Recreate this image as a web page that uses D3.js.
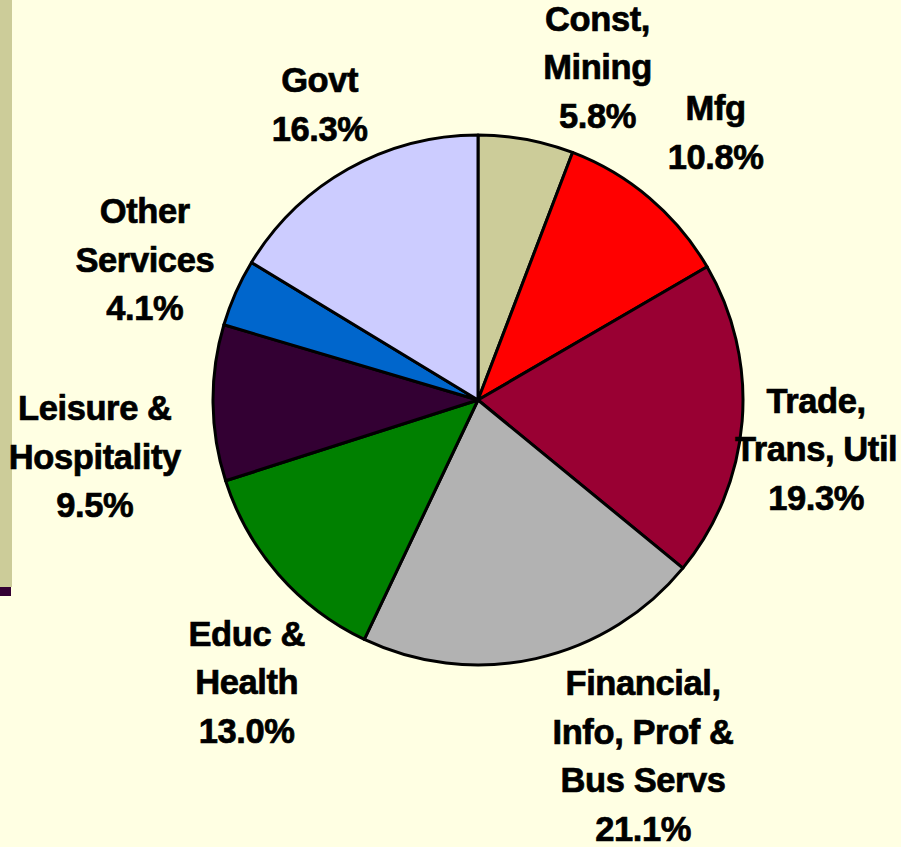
<!DOCTYPE html>
<html lang="en">
<head>
<meta charset="UTF-8">
<title>Employment by sector</title>
<script src="https://d3js.org/d3.v7.min.js"></script>
<style>
  html, body { margin: 0; padding: 0; background: #FFFFE3; }
  svg { display: block; }
</style>
</head>
<body>
<div id="chart"></div>
<script>
// data
const sectors = [
  ["Const,", "Mining"],
  ["Mfg"],
  ["Trade,", "Trans, Util"],
  ["Financial,", "Info, Prof &", "Bus Servs"],
  ["Educ &", "Health"],
  ["Leisure &", "Hospitality"],
  ["Other", "Services"],
  ["Govt"]
];
const shares = [5.8, 10.8, 19.3, 21.1, 13.0, 9.5, 4.1, 16.3];
const colors = ["#CCCC99", "#FF0000", "#990033", "#B2B2B2", "#008000", "#330033", "#0066CC", "#CCCCFF"];

// label nudges from the outer label arc (layout only)
const nudges = [[58, 1], [18, -9], [0, 22], [91, 25], [24, 59], [-44, 53], [-23, -3], [8, 0]];

const W = 901, H = 847;
const cx = 478, cy = 400, R = 265;
const lineH = 48.5, capH = 24;

const svg = d3.select("#chart").append("svg")
  .attr("width", W)
  .attr("height", H);

svg.append("rect")
  .attr("width", W).attr("height", H)
  .attr("fill", "#FFFFE3");

// slide template decoration on the left edge
svg.append("rect")
  .attr("x", 0).attr("y", 0)
  .attr("width", 12).attr("height", 587)
  .attr("fill", "#CCCC99");
svg.append("rect")
  .attr("x", 0).attr("y", 587)
  .attr("width", 11).attr("height", 9)
  .attr("fill", "#330033");

const pie = d3.pie().sort(null).value(d => d);
const arcs = pie(shares);

const arc = d3.arc().innerRadius(0).outerRadius(R);
const labelArc = d3.arc().innerRadius(R * 1.28).outerRadius(R * 1.28);

const g = svg.append("g").attr("transform", `translate(${cx},${cy})`);

g.selectAll("path.slice")
  .data(arcs)
  .enter()
  .append("path")
  .attr("class", "slice")
  .attr("d", arc)
  .attr("fill", (d, i) => colors[i])
  .attr("stroke", "#000")
  .attr("stroke-width", 3)
  .attr("stroke-linejoin", "round");

// labels
const labels = g.selectAll("text.lab")
  .data(arcs)
  .enter()
  .append("text")
  .attr("class", "lab")
  .attr("text-anchor", "middle")
  .attr("font-family", "'Liberation Sans', Arial, sans-serif")
  .attr("font-weight", "bold")
  .attr("font-size", 34.5)
  .attr("letter-spacing", -0.4)
  .attr("fill", "#000")
  .attr("stroke", "#000")
  .attr("stroke-width", 0.7);

labels.each(function(d, i) {
  const c = labelArc.centroid(d);
  const x = c[0] + nudges[i][0];
  const yc = c[1] + nudges[i][1];
  const lines = sectors[i].concat([shares[i].toFixed(1) + "%"]);
  const y0 = yc - (lines.length - 1) * lineH / 2 + capH / 2;
  d3.select(this).selectAll("tspan")
    .data(lines)
    .enter()
    .append("tspan")
    .attr("x", x)
    .attr("y", (t, j) => y0 + j * lineH)
    .text(t => t);
});
</script>
</body>
</html>
